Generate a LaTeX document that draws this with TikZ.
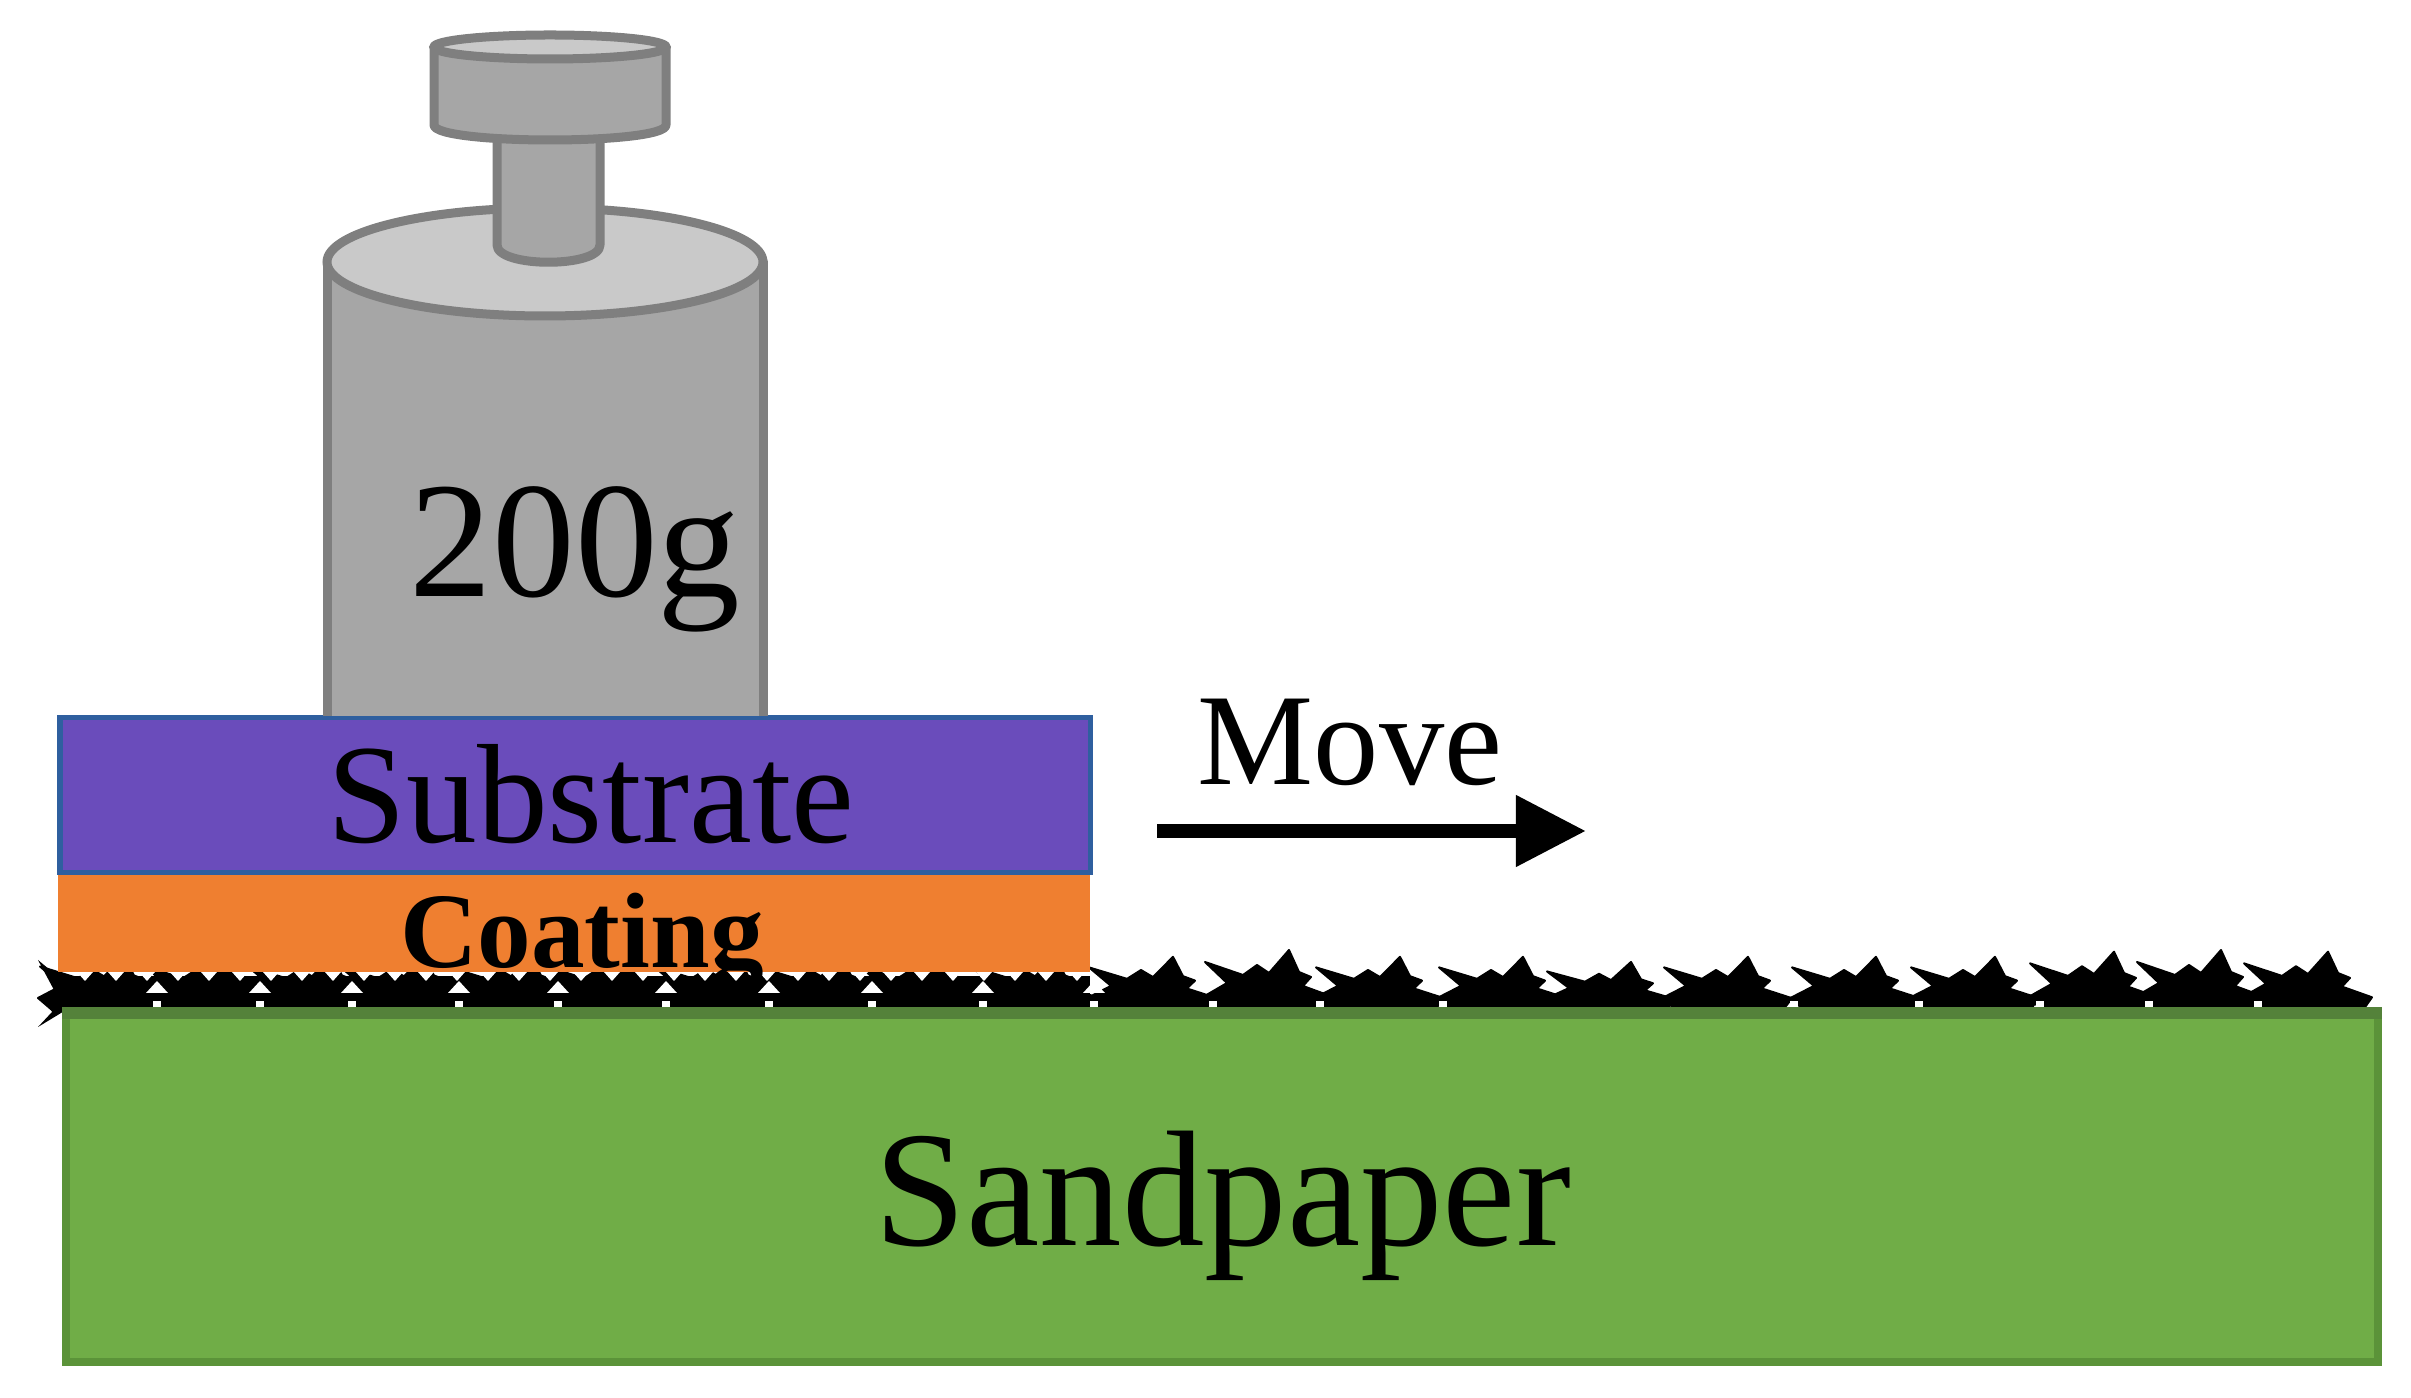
\documentclass[tikz,border=0pt]{standalone}
\usepackage{fontspec}
\setmainfont{Liberation Serif}
\usetikzlibrary{arrows.meta}
\definecolor{metal}{HTML}{A6A6A6}
\definecolor{metallight}{HTML}{C9C9C9}
\definecolor{metaledge}{HTML}{7F7F7F}
\definecolor{subfill}{HTML}{6A4CBB}
\definecolor{subedge}{HTML}{2F5F9F}
\definecolor{coat}{HTML}{EF7F30}
\definecolor{sand}{HTML}{70AD47}
\definecolor{sandedge}{HTML}{5B9339}
\definecolor{sandtop}{HTML}{54823A}
\tikzset{
  weight/.style={draw=metaledge,line width=0.09cm,fill=metal,line join=round},
  weighttop/.style={draw=metaledge,line width=0.09cm,fill=metallight},
  label/.style={inner sep=0pt,anchor=base,text=black},
  movearrow/.style={line width=0.14cm,-{Triangle[length=0.70cm,width=0.68cm]}},
  grit/.style={fill=black,draw=black,line width=0.02cm,line join=round}
}
\begin{document}
\begin{tikzpicture}[x=0.01cm,y=-0.01cm]
\useasboundingbox (0,0) rectangle (2411,1398);
% sandpaper grit, right-hand part and under the coating
\foreach \sx/\sf in {40/0.9,145/0.9,248/0.9,340/0.9,447/0.9,546/0.9,654/0.9,757/0.9,860/0.9,971/0.9,1089/0.88,1205/1,1316/0.88,1439/0.88,1547/0.79,1664/0.88,1792/0.88,1911/0.88,2030/0.97,2137/1,2244/0.97}{
  \path[grit] ({\sx+12},1010) -- ({\sx-2},{1007-10*\sf}) -- ({\sx+22},{1007-24*\sf})
    -- (\sx,{1007-45*\sf}) -- ({\sx+38},{1007-32*\sf}) -- ({\sx+52},{1007-42*\sf})
    -- ({\sx+64},{1007-34*\sf}) -- ({\sx+84},{1007-57*\sf}) -- ({\sx+94},{1007-35*\sf})
    -- ({\sx+106},{1007-30*\sf}) -- ({\sx+98},{1007-21*\sf}) -- ({\sx+128},{1007-10*\sf})
    -- ({\sx+119},1010) -- cycle;
}
\fill[black] (64,976) rectangle (1090,1008);
\fill[black] (38,960) -- (68,985) -- (58,1000) -- (48,994) -- (56,1004) -- (66,1010) -- (38,1027) -- (52,1012) -- (46,1000) -- (54,990) -- cycle;
\foreach \tx in {157,260,352,459,558,666,769,872,983,1094}{
  \fill[white] (\tx,981) -- ({\tx+11},993) -- ({\tx-11},993) -- cycle;
  \fill[white] ({\tx-4},1001) rectangle ({\tx+4},1008);
}
\foreach \tx in {1213,1320,1443,1794,1919,2040,2149,2258}{
  \fill[white] ({\tx-4},1001) rectangle ({\tx+4},1008);
}
\foreach \tx in {85,116,147,178,209,240,271,302,333,364,395,426,457,488,519,550,581,612,643,674,705,736,767,798,829,860,891,922,953,984,1015,1046,1077}{
  \fill[white] ({\tx-8},972) -- ({\tx+8},972) -- (\tx,981) -- cycle;
}
% sandpaper
\draw[draw=sandedge,line width=0.08cm,fill=sand] (66,1013) rectangle (2378,1362);
\fill[sandtop] (62,1007) rectangle (2382,1019);
% coating and substrate
\fill[coat] (58,872) rectangle (1090,972);
\draw[draw=subedge,line width=0.05cm,fill=subfill] (60,718) rectangle (1090,873);
% weight
\draw[weight] (327,716) -- (327,262) -- (763,262) -- (763,716);
\draw[weighttop] (545,262) ellipse [x radius=218,y radius=54];
\draw[weight] (497,130) -- (497,245) .. controls (497,268) and (600,268) .. (600,245) -- (600,130);
\draw[weight] (434,47) -- (434,125) .. controls (434,145) and (666,145) .. (666,125) -- (666,47) -- cycle;
\draw[weighttop] (550,47) ellipse [x radius=116,y radius=12];
% labels
\node[label,font=\fontsize{47pt}{50pt}\selectfont] (mass) at (575,597) {200g};
\node[label,font=\fontsize{40.2pt}{44pt}\selectfont] (substrate) at (591,843) {Substrate};
\node[label,font=\fontsize{30.5pt}{34pt}\selectfont\bfseries] (coating) at (582,968) {Coating};
\node[label,font=\fontsize{37.1pt}{40pt}\selectfont] (move) at (1350,785) {Move};
\node[label,font=\fontsize{46.9pt}{50pt}\selectfont] (sandpaper) at (1223,1246) {Sandpaper};
% motion arrow
\coordinate (arrowstart) at (1157,831);
\coordinate (arrowend) at (1586,831);
\draw[movearrow] (arrowstart) -- (arrowend);
\end{tikzpicture}
\end{document}
